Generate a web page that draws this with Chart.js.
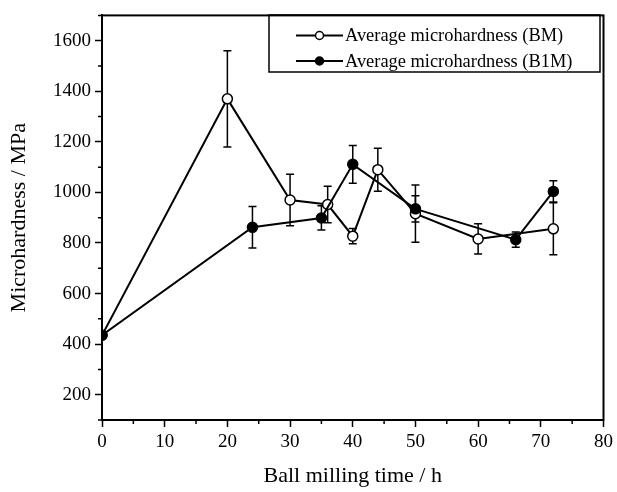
<!DOCTYPE html>
<html>
<head>
<meta charset="utf-8">
<script src="https://cdn.jsdelivr.net/npm/chart.js@4"></script>
<style>
  html, body { margin: 0; padding: 0; background: #fff; }
  #wrap { width: 617px; height: 492px; }
</style>
</head>
<body>
<div id="wrap"><canvas id="c" width="617" height="492"></canvas></div>
<script>
// ---- data ----
const labelBM = 'Average microhardness (BM)';
const labelB1M = 'Average microhardness (B1M)';
const timeBM = [0, 20, 30, 36, 40, 44, 50, 60, 72];
const hardBM = [435, 1370, 970, 952, 827, 1090, 916, 816, 856];
const errBM = [0, 190, 102, 72, 30, 85, 113, 60, 103];
const timeB1M = [0, 24, 35, 40, 50, 66, 72];
const hardB1M = [435, 862, 899, 1111, 935, 813, 1004];
const errB1M = [0, 82, 48, 75, 52, 30, 42];
const xTicks = [0, 10, 20, 30, 40, 50, 60, 70, 80];
const xMinor = [5, 15, 25, 35, 45, 55, 65, 75];
const yTicks = [200, 400, 600, 800, 1000, 1200, 1400, 1600];
const yMinor = [100, 300, 500, 700, 900, 1100, 1300, 1500, 1700];
const xTitle = 'Ball milling time / h';
const yTitle = 'Microhardness / MPa';

const FONT = "'Liberation Serif', 'Times New Roman', serif";

function pts(xs, ys) { return xs.map((x, i) => ({ x: x, y: ys[i] })); }

const clipper = {
  id: 'clipper',
  beforeDatasetDraw(chart) {
    const a = chart.chartArea, ctx = chart.ctx;
    ctx.save();
    ctx.beginPath();
    ctx.rect(a.left, a.top, a.right - a.left, a.bottom - a.top);
    ctx.clip();
  },
  afterDatasetDraw(chart) {
    chart.ctx.restore();
  }
};

const errorBars = {
  id: 'errorBars',
  beforeDatasetsDraw(chart) {
    const ctx = chart.ctx;
    const xs = chart.scales.x, ys = chart.scales.y;
    const sets = [[timeBM, hardBM, errBM], [timeB1M, hardB1M, errB1M]];
    ctx.save();
    ctx.strokeStyle = '#000';
    ctx.lineWidth = 1.5;
    sets.forEach(([t, h, e]) => {
      t.forEach((tv, i) => {
        if (!e[i]) return;
        const px = xs.getPixelForValue(tv);
        const top = ys.getPixelForValue(h[i] + e[i]);
        const bot = ys.getPixelForValue(h[i] - e[i]);
        ctx.beginPath();
        ctx.moveTo(px, top); ctx.lineTo(px, bot);
        ctx.moveTo(px - 4, top); ctx.lineTo(px + 4, top);
        ctx.moveTo(px - 4, bot); ctx.lineTo(px + 4, bot);
        ctx.stroke();
      });
    });
    ctx.restore();
  }
};

const frame = {
  id: 'frame',
  afterDraw(chart) {
    const ctx = chart.ctx;
    const a = chart.chartArea;
    const xs = chart.scales.x, ys = chart.scales.y;
    ctx.save();
    ctx.strokeStyle = '#000';
    ctx.lineWidth = 2;
    ctx.strokeRect(a.left, a.top, a.right - a.left, a.bottom - a.top);
    // minor ticks
    ctx.lineWidth = 1.5;
    ctx.beginPath();
    xMinor.forEach(v => {
      const px = xs.getPixelForValue(v);
      ctx.moveTo(px, a.bottom); ctx.lineTo(px, a.bottom + 4);
    });
    yMinor.forEach(v => {
      const py = ys.getPixelForValue(v);
      ctx.moveTo(a.left, py); ctx.lineTo(a.left - 4, py);
    });
    ctx.stroke();

    // legend
    const lx = 269, ly = 15, lw = 331, lh = 57;
    ctx.lineWidth = 1.5;
    ctx.strokeRect(lx, ly, lw, lh);
    const rows = [
      { label: chart.data.datasets[1].label, y: 35.5, fill: '#fff' },
      { label: chart.data.datasets[0].label, y: 61, fill: '#000' }
    ];
    rows.forEach(r => {
      ctx.lineWidth = 2;
      ctx.beginPath();
      ctx.moveTo(296, r.y); ctx.lineTo(343, r.y);
      ctx.stroke();
      ctx.beginPath();
      ctx.arc(319.5, r.y, 4, 0, Math.PI * 2);
      ctx.fillStyle = r.fill;
      ctx.fill();
      ctx.lineWidth = 1.5;
      ctx.stroke();
      ctx.fillStyle = '#000';
      ctx.font = '18.4px ' + FONT;
      ctx.textBaseline = 'middle';
      ctx.textAlign = 'left';
      ctx.fillText(r.label, 345, r.y + 1);
    });
    ctx.restore();
  }
};

new Chart(document.getElementById('c'), {
  type: 'line',
  data: {
    datasets: [
      {
        label: labelB1M,
        data: pts(timeB1M, hardB1M),
        borderColor: '#000',
        borderWidth: 2,
        pointRadius: 5,
        pointBackgroundColor: '#000',
        pointBorderColor: '#000',
        pointBorderWidth: 1.5,
        tension: 0,
        order: 0
      },
      {
        label: labelBM,
        data: pts(timeBM, hardBM),
        borderColor: '#000',
        borderWidth: 2,
        pointRadius: 5,
        pointBackgroundColor: '#fff',
        pointBorderColor: '#000',
        pointBorderWidth: 1.5,
        tension: 0,
        order: 1
      }
    ]
  },
  options: {
    responsive: false,
    animation: false,
    devicePixelRatio: 1,
    layout: { padding: { left: 0, right: 11.5, top: 9.5, bottom: 0 } },
    plugins: { legend: { display: false }, tooltip: { enabled: false } },
    scales: {
      x: {
        type: 'linear',
        min: 0, max: 80,
        afterBuildTicks: s => { s.ticks = xTicks.map(v => ({ value: v })); },
        afterFit: s => { s.height = 72; },
        grid: { drawOnChartArea: false, drawTicks: true, tickLength: 7, tickColor: '#000', tickWidth: 1.5 },
        border: { display: true, color: '#000', width: 2 },
        ticks: { color: '#000', font: { family: FONT, size: 19 }, padding: 4, maxRotation: 0, callback: v => String(v) },
        title: { display: true, text: xTitle, color: '#000', font: { family: FONT, size: 22 }, padding: { top: 0, bottom: 3 } }
      },
      y: {
        type: 'linear',
        min: 100, max: 1700,
        afterBuildTicks: s => { s.ticks = yTicks.map(v => ({ value: v })); },
        afterFit: s => { s.width = 102; },
        grid: { drawOnChartArea: false, drawTicks: true, tickLength: 7, tickColor: '#000', tickWidth: 1.5 },
        border: { display: true, color: '#000', width: 2 },
        ticks: { color: '#000', font: { family: FONT, size: 19 }, padding: 4, callback: v => String(v) },
        title: { display: true, text: yTitle, color: '#000', font: { family: FONT, size: 22 }, padding: { top: 6, bottom: 0 } }
      }
    }
  },
  plugins: [clipper, errorBars, frame]
});
</script>
</body>
</html>
